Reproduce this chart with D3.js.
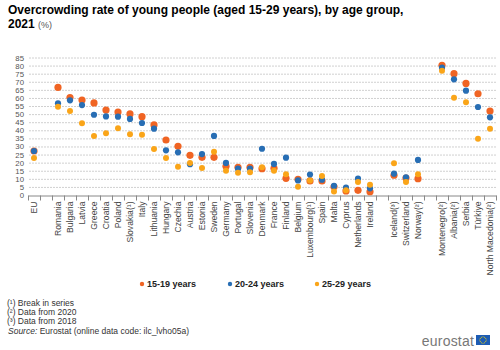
<!DOCTYPE html>
<html><head><meta charset="utf-8">
<script src="https://cdn.jsdelivr.net/npm/d3@7"></script>
<style>body{margin:0;background:#fff;font-family:Arial,"Liberation Sans",sans-serif}</style>
</head><body><div id="chart"></div>
<script>
const categories = ["EU","_g1","Romania","Bulgaria","Latvia","Greece","Croatia","Poland","Slovakia(¹)","Italy","Lithuania","Hungary","Czechia","Austria","Estonia","Sweden","Germany","Portugal","Slovenia","Denmark","France","Finland","Belgium","Luxembourg(¹)","Spain","Malta","Cyprus","Netherlands","Ireland","_g2","Iceland(³)","Switzerland","Norway(²)","_g3","Montenegro(²)","Albania(²)","Serbia","Türkiye","North Macedonia(²)"];
const age15_19 = [27.2,null,66.5,60.2,58.7,56.9,52.5,51.3,50.1,48.4,43.3,34.0,30.1,24.5,23.3,23.3,17.7,17.1,17.1,16.3,16.5,10.3,9.7,8.7,8.7,5.1,2.5,2.9,2.0,null,12.2,10.5,10.1,null,80.2,75.0,69.0,62.6,51.9];
const age20_24 = [27.2,null,56.7,58.5,55.6,49.6,48.6,48.4,47.0,44.5,41.0,27.6,26.4,19.0,25.3,36.5,19.8,16.3,16.3,28.6,19.2,23.1,9.0,12.6,9.5,5.6,4.5,10.1,4.1,null,13.2,10.9,21.7,null,78.7,71.5,64.5,54.4,48.0];
const age25_29 = [22.9,null,54.6,51.9,44.3,36.5,38.1,41.2,37.5,37.3,28.4,22.9,17.5,19.8,16.7,26.8,15.0,13.8,14.0,17.1,15.0,12.8,5.1,9.0,11.8,2.1,2.9,8.0,6.4,null,19.6,8.0,12.8,null,76.8,60.1,57.3,34.8,41.0];
const seriesNames = ["15-19 years","20-24 years","25-29 years"];
const yTicks = d3.range(0,90,5);

const W=500,H=350;
const colors=["#F06423","#286EB4","#FAA519"];
const svg=d3.select("#chart").append("svg").attr("width",W).attr("height",H);
const x=d3.scaleBand().domain(categories).range([28,496]);
const y=d3.scaleLinear().domain([0,85]).range([195,57.5]);

svg.append("text").attr("x",8).attr("y",14).attr("font-size",12).attr("font-weight","bold").attr("fill","#000")
  .text("Overcrowding rate of young people (aged 15-29 years), by age group,");
const t2=svg.append("text").attr("x",8).attr("y",28).attr("font-size",12).attr("font-weight","bold").attr("fill","#000");
t2.append("tspan").text("2021 ");
t2.append("tspan").attr("font-weight","normal").attr("font-size",9).attr("fill","#555").text("(%)");

// grid
svg.append("g").selectAll("line").data(yTicks.filter(d=>d>0)).join("line")
  .attr("x1",29).attr("x2",496).attr("y1",d=>y(d)+0.5).attr("y2",d=>y(d)+0.5)
  .attr("stroke","#d0d0d0").attr("stroke-width",1).attr("stroke-dasharray","2,1");
const ya=svg.append("g").attr("transform","translate(29,0)").call(d3.axisLeft(y).tickValues(yTicks).tickSize(0).tickPadding(5));
ya.select(".domain").remove();
ya.selectAll("text").attr("font-size",7.8).attr("fill","#555").attr("font-family","Arial,'Liberation Sans',sans-serif");

// x axis
const xa=svg.append("g").attr("transform","translate(0,195.5)").call(d3.axisBottom(x).tickSize(0).tickFormat(d=>d.startsWith("_g")?"":d));
xa.select(".domain").attr("stroke","#888");
xa.selectAll(".tick text").attr("font-size",8.6).attr("fill","#444").attr("font-family","Arial,'Liberation Sans',sans-serif")
  .attr("transform","rotate(-90)").attr("text-anchor","end").attr("x",-6).attr("y",0).attr("dy","0.32em");
// boundary tick marks
const bounds=categories.map(c=>x(c)).concat([x.range()[1]]);
svg.append("g").selectAll("line").data(bounds).join("line")
  .attr("x1",d=>Math.round(d)+0.5).attr("x2",d=>Math.round(d)+0.5).attr("y1",195.5).attr("y2",200.5).attr("stroke","#888");

// points
const all=[age15_19,age20_24,age25_29];
const radii=[3.6,3.1,3.0];
all.forEach((vals,si)=>{
  svg.append("g").selectAll("circle").data(categories.map((c,i)=>({c,v:vals[i]})).filter(d=>d.v!=null)).join("circle")
    .attr("cx",d=>x(d.c)+x.bandwidth()/2).attr("cy",d=>y(d.v)).attr("r",radii[si]).attr("fill",colors[si]);
});

// legend
const lx=[142,230,317];
seriesNames.forEach((s,i)=>{
  const g=svg.append("g").attr("transform",`translate(${lx[i]},284)`);
  g.append("circle").attr("cx",0).attr("cy",0).attr("r",2.2).attr("fill",colors[i]);
  g.append("text").attr("x",5).attr("y",3.2).attr("font-size",9).attr("font-weight","bold").attr("fill","#222").text(s);
});

// notes
const notes=["(¹) Break in series","(²) Data from 2020","(³) Data from 2018"];
notes.forEach((n,i)=>svg.append("text").attr("x",7).attr("y",306+i*9).attr("font-size",8.5).attr("fill","#333").text(n));
const src=svg.append("text").attr("x",8).attr("y",334).attr("font-size",8.5).attr("fill","#333");
src.append("tspan").attr("font-style","italic").text("Source:");
src.append("tspan").text(" Eurostat (online data code: ilc_lvho05a)");

// logo
svg.append("text").attr("x",474).attr("y",346).attr("text-anchor","end").attr("font-size",14).attr("fill","#777").attr("letter-spacing","0.2").text("eurostat");
svg.append("rect").attr("x",476).attr("y",335).attr("width",14).attr("height",10).attr("fill","#1d5cb4");
const flag=svg.append("g").attr("transform","translate(483,340)");
d3.range(12).forEach(k=>{const a=k*Math.PI/6;flag.append("circle").attr("cx",3.2*Math.cos(a)).attr("cy",3.2*Math.sin(a)).attr("r",0.5).attr("fill","#ffdd00");});
</script></body></html>
